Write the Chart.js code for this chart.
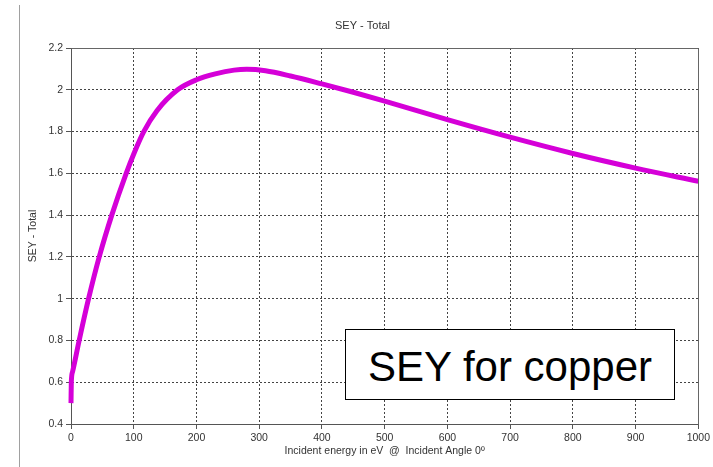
<!DOCTYPE html>
<html>
<head>
<meta charset="utf-8">
<script src="https://cdn.jsdelivr.net/npm/chart.js@4"></script>
<style>
  body { margin: 0; background: #fff; }
  #wrap { position: relative; width: 713px; height: 467px; }
  #edge { position: absolute; left: 19px; top: 5px; width: 1px; height: 462px; background: #a0a0a0; }
  #note {
    position: absolute; left: 345px; top: 329px; width: 330px; height: 71px;
    box-sizing: border-box; border: 1px solid #000; background: #fff;
    font-family: "Liberation Sans", Arial, sans-serif; font-size: 42px;
    line-height: 69px; padding-top: 2px; text-align: center; color: #000;
  }
</style>
</head>
<body>
<div id="wrap">
  <canvas id="sey-chart" width="713" height="467"></canvas>
  <div id="edge"></div>
  <div id="note">SEY for copper</div>
</div>
<script>
const energy = [0, 0.5, 2.5, 13, 28, 45, 65, 88, 101, 116, 137, 170, 200, 230, 260, 280, 310, 350, 400, 450, 500, 600, 700, 800, 900, 1000];
const seyTotal = [0.50, 0.60, 0.65, 0.80, 1.00, 1.20, 1.40, 1.60, 1.70, 1.80, 1.90, 2.00, 2.048, 2.076, 2.094, 2.098, 2.091, 2.066, 2.028, 1.988, 1.946, 1.857, 1.773, 1.695, 1.625, 1.562];

const chartTitle = 'SEY - Total';
const xTitle = 'Incident energy in eV  @  Incident Angle 0º';
const yTitle = 'SEY - Total';

const textFont = { family: '"Liberation Sans", Arial, sans-serif', size: 10.5 };

// top + right edge of the plot frame
const frame = {
  id: 'frame',
  afterDraw(chart) {
    const a = chart.chartArea, c = chart.ctx;
    c.save();
    c.strokeStyle = '#666';
    c.lineWidth = 1;
    c.beginPath();
    c.moveTo(Math.round(a.left) + 0.5, Math.round(a.top) + 0.5);
    c.lineTo(Math.round(a.right) + 0.5, Math.round(a.top) + 0.5);
    c.lineTo(Math.round(a.right) + 0.5, Math.round(a.bottom) + 0.5);
    c.stroke();
    c.restore();
  }
};

const ctx = document.getElementById('sey-chart').getContext('2d');
const chart = new Chart(ctx, {
  type: 'line',
  data: {
    datasets: [{
      data: energy.map((e, i) => ({ x: e, y: seyTotal[i] })),
      borderColor: '#d500d8',
      borderWidth: 5,
      pointRadius: 0,
      cubicInterpolationMode: 'monotone',
      fill: false,
      clip: 5
    }]
  },
  options: {
    responsive: false,
    animation: false,
    devicePixelRatio: 1,
    layout: { padding: { left: 22, right: 10, top: 0, bottom: 10 } },
    plugins: {
      legend: { display: false },
      tooltip: { enabled: false },
      title: {
        display: true,
        text: chartTitle,
        color: '#333',
        font: { family: textFont.family, size: 11, weight: 'normal' },
        padding: { top: 19, bottom: 15.8 }
      }
    },
    scales: {
      x: {
        type: 'linear',
        min: 0, max: 1000,
        ticks: { stepSize: 100, color: '#333', font: textFont, padding: 3, maxRotation: 0,
          callback: v => String(v) },
        grid: { color: '#444', tickColor: '#555', tickLength: 5 },
        border: { color: '#555', dash: [2, 2] },
        title: { display: true, text: xTitle, color: '#333', font: textFont, padding: { top: 4, bottom: 0 } },
        afterFit(s) { s.height = 33; }
      },
      y: {
        min: 0.4, max: 2.2,
        ticks: { stepSize: 0.2, color: '#333', font: textFont, padding: 3,
          callback: v => String(Math.round(v * 10) / 10) },
        grid: { color: '#444', tickColor: '#555', tickLength: 5 },
        border: { color: '#555', dash: [2, 2] },
        title: { display: true, text: yTitle, color: '#333', font: textFont, padding: { top: 5, bottom: 0 } },
        afterFit(s) { s.width = 49; }
      }
    }
  },
  plugins: [frame]
});
</script>
</body>
</html>
